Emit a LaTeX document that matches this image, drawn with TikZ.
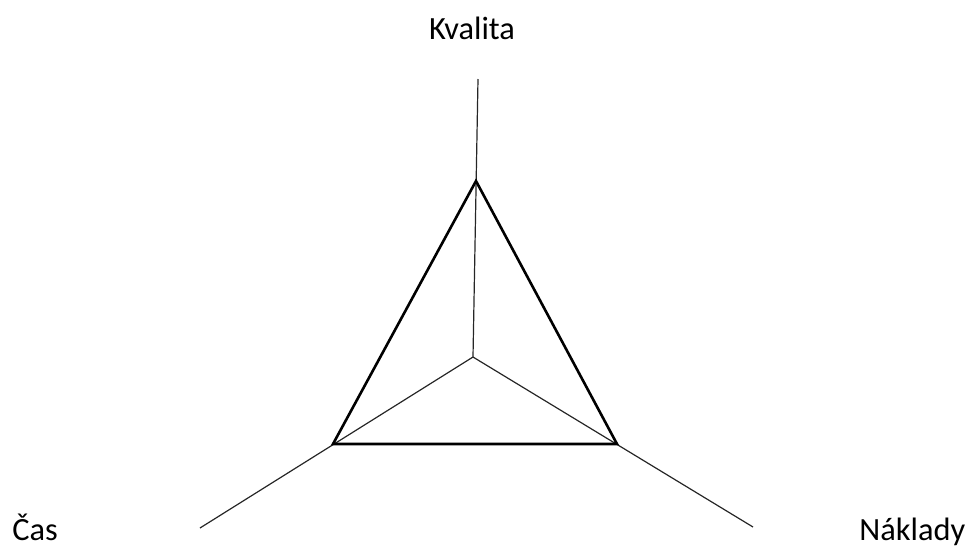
\documentclass[tikz,border=0pt]{standalone}
\usepackage{fontspec}
\setmainfont{Carlito}
\usetikzlibrary{positioning}

\begin{document}
\begin{tikzpicture}[
  x=0.5pt,y=-0.5pt,
  axisline/.style={line width=0.6pt,black!85},
  triline/.style={line width=1.3pt,black,line join=miter},
  axislabel/.style={font=\fontsize{16.2}{19}\selectfont,anchor=base,inner sep=0pt},
]
\useasboundingbox (0,0) rectangle (970,548);

% Axes from the centre
\coordinate (centre) at (473,357);
\coordinate (qend) at (478,79);
\coordinate (tend) at (200,528);
\coordinate (cend) at (753,527);

\draw[axisline] (centre) -- (qend);
\draw[axisline] (centre) -- (tend);
\draw[axisline] (centre) -- (cend);

% Triangle
\coordinate (qv) at (476,181);
\coordinate (tv) at (333,444);
\coordinate (cv) at (617,444);
\draw[triline] (qv) -- (tv) -- (cv) -- cycle;

% Labels
\node[axislabel] (quality) at (472,39) {Kvalita};
\node[axislabel,anchor=base west] (time) at (12,540) {Čas};
\node[axislabel,anchor=base west] (cost) at (859,540) {Náklady};

\end{tikzpicture}
\end{document}
